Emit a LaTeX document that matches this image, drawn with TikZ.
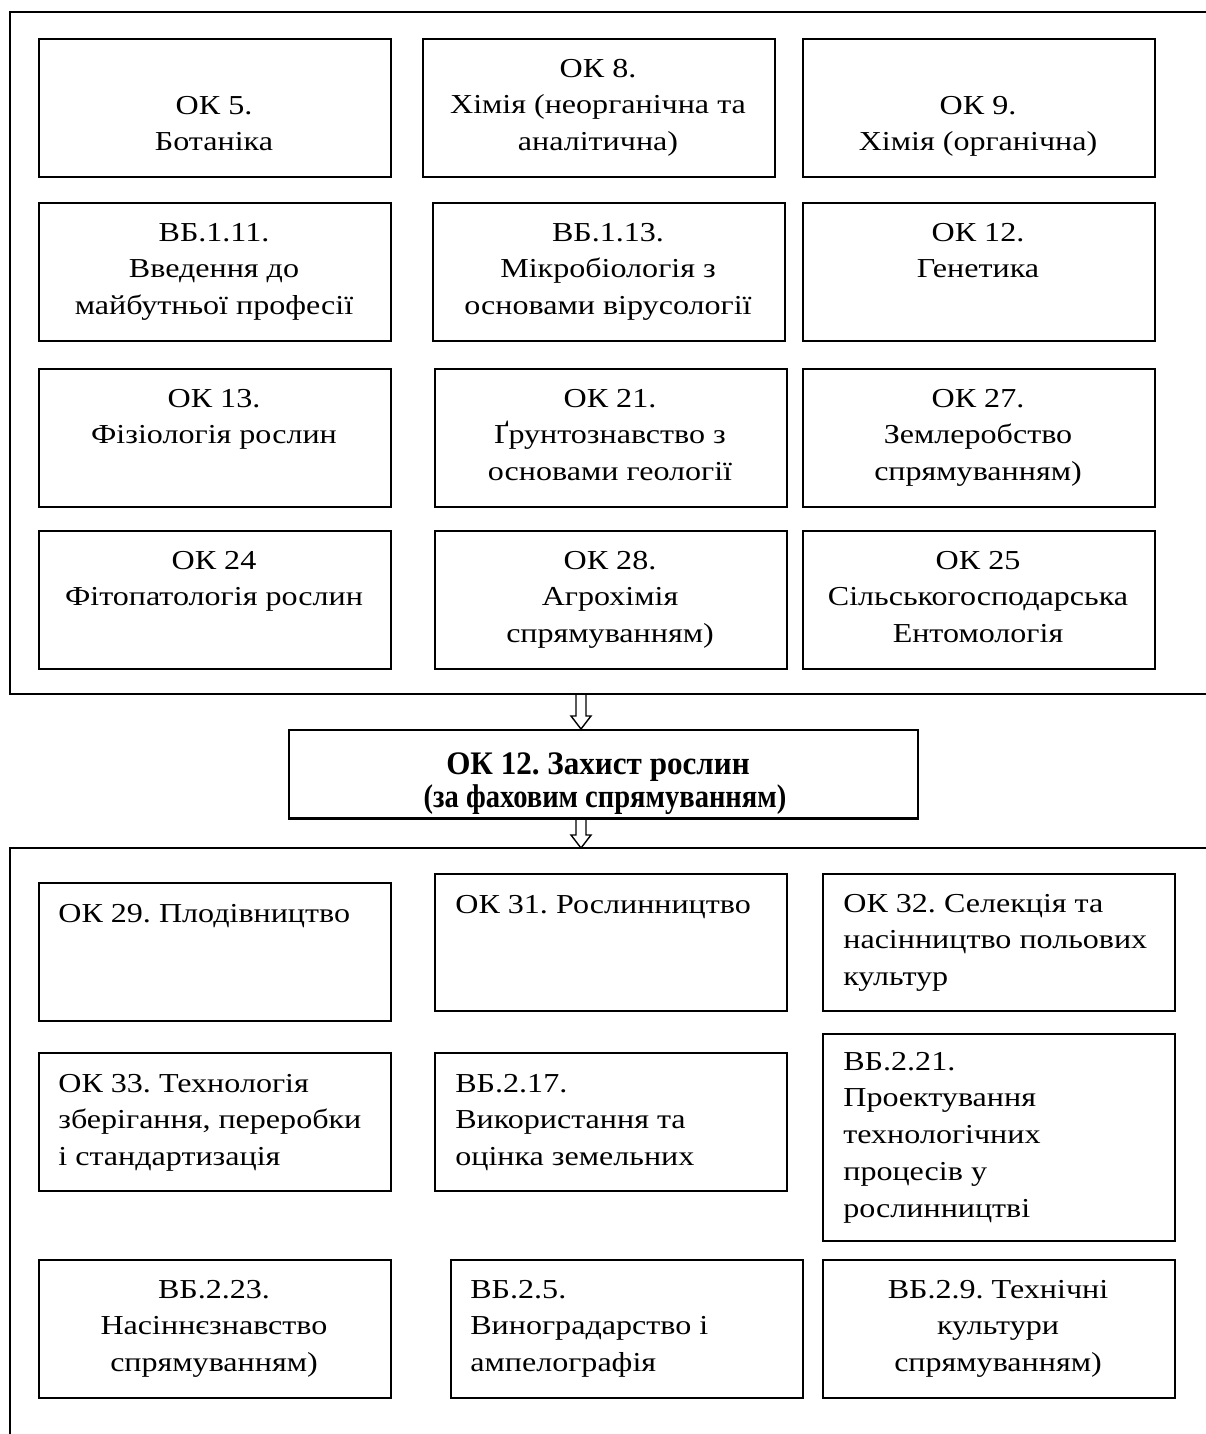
\documentclass[tikz,border=0pt]{standalone}
\usepackage{fontspec}
\setmainfont{Liberation Serif}[FakeStretch=1.17]
\usetikzlibrary{calc}
\newlength\px
\setlength\px{0.02cm}
\newcommand\myfont{\fontsize{15.6pt}{21pt}\selectfont\frenchspacing}
\newcommand\mylc[1]{\begin{tabular}[t]{@{}c@{}}#1\end{tabular}}
\newcommand\myll[1]{\begin{tabular}[t]{@{}l@{}}#1\end{tabular}}
\begin{document}
\begin{tikzpicture}[x=0.02cm,y=-0.02cm,
  frameline/.style={line width=1.1pt},
  cell/.style={draw, line width=1.1pt, minimum width=352*\px, minimum height=138*\px, inner sep=0, anchor=north west},
  ctxt/.style={anchor=base, inner sep=0, font=\myfont},
  ltxt/.style={anchor=base west, inner sep=0, font=\myfont},
  btxt/.style={anchor=base, inner sep=0, font=\myfont\bfseries},
  arrowline/.style={line width=0.8pt, line join=miter},
]
\useasboundingbox (0,0) rectangle (1206,1434);
\fill[white] (0,0) rectangle (1206,1434);

% outer frames
\draw[frameline] (1210,12) -- (10,12) -- (10,694) -- (1210,694);
\draw[frameline] (1210,848) -- (10,848) -- (10,1440);

% top section boxes
\node[cell] (A1) at (38,38) {};
\node[cell] (A2) at (422,38) {};
\node[cell] (A3) at (802,38) {};
\node[cell] (B1) at (38,202) {};
\node[cell] (B2) at (432,202) {};
\node[cell] (B3) at (802,202) {};
\node[cell] (C1) at (38,368) {};
\node[cell] (C2) at (434,368) {};
\node[cell] (C3) at (802,368) {};
\node[cell] (D1) at (38,530) {};
\node[cell] (D2) at (434,530) {};
\node[cell] (D3) at (802,530) {};

\node[ctxt] (tA1) at (214,114) {\mylc{ОК 5.\\Ботаніка}};
\node[ctxt] (tA2) at (598,77) {\mylc{ОК 8.\\Хімія (неорганічна та\\аналітична)}};
\node[ctxt] (tA3) at (978,114) {\mylc{ОК 9.\\Хімія (органічна)}};
\node[ctxt] (tB1) at (214,241) {\mylc{ВБ.1.11.\\Введення до\\майбутньої професії}};
\node[ctxt] (tB2) at (608,241) {\mylc{ВБ.1.13.\\Мікробіологія з\\основами вірусології}};
\node[ctxt] (tB3) at (978,241) {\mylc{ОК 12.\\Генетика}};
\node[ctxt] (tC1) at (214,407) {\mylc{ОК 13.\\Фізіологія рослин}};
\node[ctxt] (tC2) at (610,407) {\mylc{ОК 21.\\Ґрунтознавство з\\основами геології}};
\node[ctxt] (tC3) at (978,407) {\mylc{ОК 27.\\Землеробство\\спрямуванням)}};
\node[ctxt] (tD1) at (214,569) {\mylc{ОК 24\\Фітопатологія рослин}};
\node[ctxt] (tD2) at (610,569) {\mylc{ОК 28.\\Агрохімія\\спрямуванням)}};
\node[ctxt] (tD3) at (978,569) {\mylc{ОК 25\\Сільськогосподарська\\Ентомологія}};

% middle box
\node[draw, line width=1.1pt, minimum width=629*\px, minimum height=88*\px, inner sep=0, anchor=north west] (mid) at (288,729) {};
\node[btxt] (tmid1) at (598,774) {\scalebox{0.97}[1.2]{ОК 12. Захист рослин}};
\node[btxt] (tmid2) at (605,807) {\scalebox{0.89}[1.2]{(за фаховим спрямуванням)}};
\draw[line width=1.1pt] (mid.south west) -- (mid.south east);

% hollow arrows
\coordinate (a1top) at (581,694);
\coordinate (a1tip) at (mid.north -| a1top);
\coordinate (a2top) at (mid.south -| a1top);
\coordinate (a2tip) at (581,848);
\draw[arrowline] ($(a1top)+(-5,0)$) -- ($(a1tip)+(-5,-13)$) -- ($(a1tip)+(-10,-13)$) -- (a1tip) -- ($(a1tip)+(10,-13)$) -- ($(a1tip)+(5,-13)$) -- ($(a1top)+(5,0)$);
\draw[arrowline] ($(a2top)+(-5,0)$) -- ($(a2tip)+(-5,-13)$) -- ($(a2tip)+(-10,-13)$) -- (a2tip) -- ($(a2tip)+(10,-13)$) -- ($(a2tip)+(5,-13)$) -- ($(a2top)+(5,0)$);

% bottom section boxes
\node[cell] (E1) at (38,882) {};
\node[cell, minimum height=137*\px] (E2) at (434,873) {};
\node[cell, minimum height=137*\px] (E3) at (822,873) {};
\node[cell] (F1) at (38,1052) {};
\node[cell] (F2) at (434,1052) {};
\node[cell, minimum height=207*\px] (F3) at (822,1033) {};
\node[cell] (G1) at (38,1259) {};
\node[cell] (G2) at (450,1259) {};
\node[cell] (G3) at (822,1259) {};

\node[ltxt] (tE1) at (58,922) {\myll{ОК 29. Плодівництво}};
\node[ltxt] (tE2) at (455,913) {\myll{ОК 31. Рослинництво}};
\node[ltxt] (tE3) at (843,912) {\myll{ОК 32. Селекція та\\насінництво польових\\культур}};
\node[ltxt] (tF1) at (58,1092) {\myll{ОК 33. Технологія\\зберігання, переробки\\і стандартизація}};
\node[ltxt] (tF2) at (455,1092) {\myll{ВБ.2.17.\\Використання та\\оцінка земельних}};
\node[ltxt] (tF3) at (843,1070) {\myll{ВБ.2.21.\\Проектування\\технологічних\\процесів у\\рослинництві}};
\node[ctxt] (tG1) at (214,1298) {\mylc{ВБ.2.23.\\Насіннєзнавство\\спрямуванням)}};
\node[ltxt] (tG2) at (470,1298) {\myll{ВБ.2.5.\\Виноградарство і\\ампелографія}};
\node[ctxt] (tG3) at (998,1298) {\mylc{ВБ.2.9. Технічні\\культури\\спрямуванням)}};
\end{tikzpicture}
\end{document}
